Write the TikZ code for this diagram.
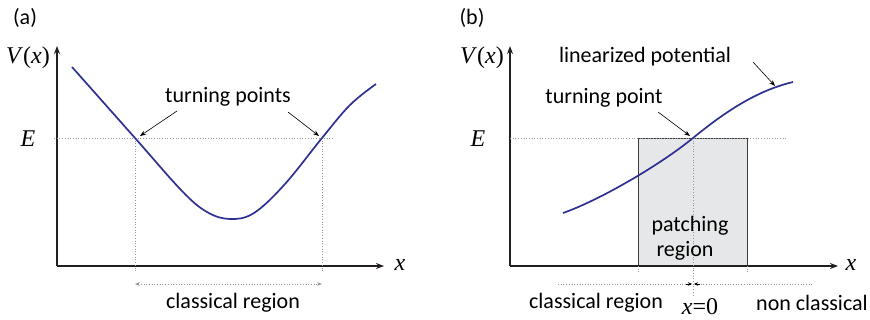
\documentclass[tikz,border=0pt]{standalone}
\usepackage{fontspec}
\setmainfont{Carlito}
\newfontfamily\tms{Liberation Serif}
\usetikzlibrary{arrows.meta}
\definecolor{curveblue}{RGB}{46,49,146}
\definecolor{axisgray}{RGB}{35,31,32}
\definecolor{dotgray}{RGB}{150,150,150}
\definecolor{boxfill}{RGB}{230,231,232}
\definecolor{boxedge}{RGB}{60,60,60}
\tikzset{
  axis/.style={line width=1.4pt, draw=axisgray, -{Stealth[length=8pt,width=6pt]}},
  curve/.style={line width=1.7pt, draw=curveblue},
  guide/.style={line width=0.7pt, draw=dotgray, dotted},
  pointer/.style={line width=0.6pt, draw=black, -{Stealth[length=6pt,width=4.5pt]}},
  lbl/.style={font=\fontsize{22}{24}\selectfont, inner sep=0pt},
  mlbl/.style={font=\fontsize{24}{26}\selectfont\tms, inner sep=0pt},
  panel/.style={font=\fontsize{22}{24}\selectfont, inner sep=0pt},
}
\begin{document}
\begin{tikzpicture}[x=1pt,y=-1pt]
\useasboundingbox (0,0) rectangle (870,320);
% ---------------- panel (a)
\node[panel] (pa) at (25,18) {(a)};
\coordinate (ao) at (57,266);
\coordinate (ayt) at (57,46);
\coordinate (axt) at (384,266);
\draw[axis] (ao) -- (ayt);
\draw[axis] (ao) -- (axt);
\node[mlbl] (aV) at (28,58) {\textit{V}(\textit{x})};
\node[mlbl] (aE) at (28,139) {\textit{E}};
\node[mlbl] (ax) at (400,265) {\textit{x}};
\coordinate (aEs) at (54,138);
\coordinate (aEe) at (333,138);
\draw[guide] (aEs) -- (aEe);
\coordinate (tpL) at (135,138);
\coordinate (tpR) at (322,138);
\coordinate (tpLb) at (135,272);
\coordinate (tpRb) at (322,272);
\draw[guide] (tpL) -- (tpLb);
\draw[guide] (tpR) -- (tpRb);
\draw[curve] plot[smooth, tension=0.6] coordinates {(72,67) (135,138) (182,191) (207,212) (230,219) (254,213) (285,184) (322,138) (350,105) (376,84)};
\coordinate (crL) at (135,284);
\coordinate (crR) at (322,284);
\draw[guide, {Stealth[length=5pt,width=3.5pt]}-{Stealth[length=5pt,width=3.5pt]}, line width=0.6pt] (crL) -- (crR);
\node[lbl] (acr) at (233,303) {classical region};
\node[lbl] (atp) at (228,97) {turning points};
\coordinate (atpl) at (177,111);
\coordinate (atpr) at (288,112);
\coordinate (atpLt) at (140,136);
\coordinate (atpRt) at (319,136);
\draw[pointer] (atpl) -- (atpLt);
\draw[pointer] (atpr) -- (atpRt);
% ---------------- panel (b)
\node[panel] (pb) at (472,18) {(b)};
\coordinate (bo) at (510,266);
\coordinate (byt) at (510,46);
\coordinate (bxt) at (838,266);
\node[draw=boxedge, fill=boxfill, line width=0.8pt, minimum width=109pt, minimum height=128pt, inner sep=0pt] (patch) at (692.5,202) {};
\draw[axis] (bo) -- (byt);
\draw[axis] (bo) -- (bxt);
\node[mlbl] (bV) at (482,58) {\textit{V}(\textit{x})};
\node[mlbl] (bE) at (478,139) {\textit{E}};
\node[mlbl] (bx) at (851,265) {\textit{x}};
\coordinate (bEs) at (510,138);
\coordinate (bEe) at (787,138);
\draw[guide] (bEs) -- (bEe);
\coordinate (btp) at (693,138);
\coordinate (btpb) at (693,296);
\draw[guide] (btp) -- (btpb);
\coordinate (pl1) at (638,266);
\coordinate (pl2) at (638,273);
\coordinate (pr1) at (747,266);
\coordinate (pr2) at (747,273);
\draw[guide] (pl1) -- (pl2);
\draw[guide] (pr1) -- (pr2);
\coordinate (bcs) at (563,213);
\coordinate (bce) at (793,82);
\draw[curve] (bcs) .. controls (600,200) and (660,165) .. (btp) .. controls (730,107.7) and (760,90) .. (bce);
\node[lbl] (bpr1) at (690,226) {patching};
\node[lbl] (bpr2) at (685,251) {region};
\coordinate (bl1) at (558,284);
\coordinate (bl2) at (692,284);
\coordinate (br1) at (812,284);
\coordinate (br2) at (694,284);
\draw[guide, line width=0.6pt] (bl1) -- (bl2);
\draw[guide, line width=0.6pt] (br1) -- (br2);
\coordinate (ml1) at (686,284);
\coordinate (mr1) at (700,284);
\draw[line width=0.6pt, -{Stealth[length=4pt,width=3.5pt]}] (ml1) -- (bl2);
\draw[line width=0.6pt, -{Stealth[length=4pt,width=3.5pt]}] (mr1) -- (br2);
\node[lbl] (bcr) at (596,303) {classical region};
\node[mlbl] (bx0) at (700,307) {\textit{x}=0};
\node[lbl] (bnc) at (812,303) {non classical};
\node[lbl] (blp) at (645,57) {linearized potential};
\coordinate (blps) at (753,62);
\coordinate (blpt) at (775,86);
\draw[pointer] (blps) -- (blpt);
\node[lbl] (btpl) at (604,98) {turning point};
\coordinate (btps) at (658,112);
\coordinate (btpt) at (690,136);
\draw[pointer] (btps) -- (btpt);
\end{tikzpicture}
\end{document}
